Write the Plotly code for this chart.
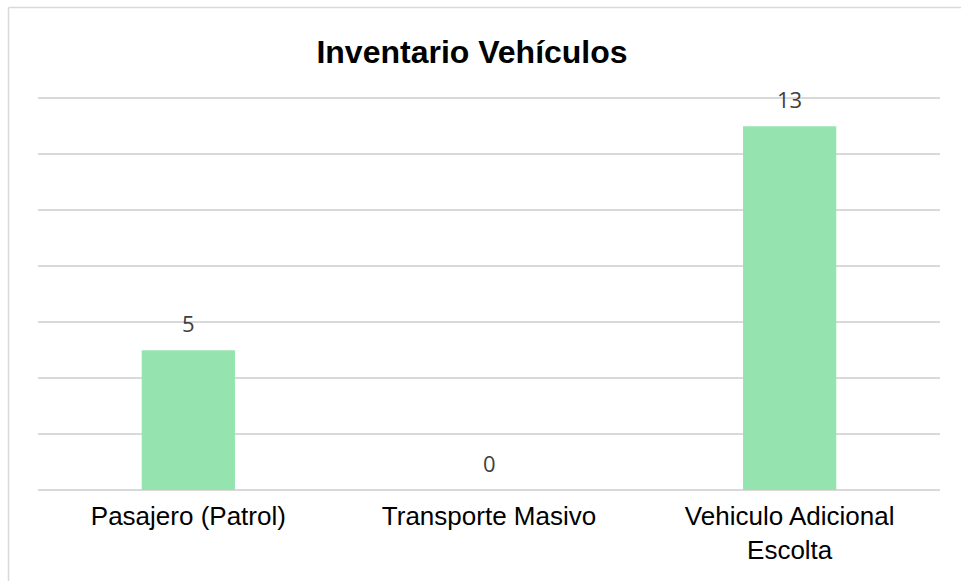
import plotly.graph_objects as go

# Inventory data
categorias = ["Pasajero (Patrol)", "Transporte Masivo", "Vehiculo Adicional<br>Escolta"]
cantidades = [5, 0, 13]
y_ticks = [0, 2, 4, 6, 8, 10, 12, 14]

W, H = 961, 581
L, R, T, B = 38, 21, 90, 91

fig = go.Figure()
fig.add_trace(go.Bar(
    x=categorias,
    y=cantidades,
    marker=dict(color="#95E3AF", line=dict(width=0)),
    width=0.31,
    hoverinfo="x+y",
))

# value labels above each bar
for c, v in zip(categorias, cantidades):
    fig.add_annotation(
        x=c, y=v, text=str(v), showarrow=False,
        yanchor="bottom", yshift=10,
        font=dict(family="Open Sans, Noto Sans, sans-serif", size=22, color="#404040"),
    )

pw = W - L - R
ph = H - T - B
frame = dict(color="#D9D9D9", width=1.5)
# outer chart frame: top and left edges
fig.add_shape(type="line", xref="paper", yref="paper",
              x0=(8.5 - L) / pw, x1=(W + 5 - L) / pw,
              y0=(H - 7.5 - B) / ph, y1=(H - 7.5 - B) / ph,
              line=frame, layer="below")
fig.add_shape(type="line", xref="paper", yref="paper",
              x0=(8.5 - L) / pw, x1=(8.5 - L) / pw,
              y0=-(B + 5) / ph, y1=(H - 7.5 - B) / ph,
              line=frame, layer="below")

fig.update_layout(
    width=W, height=H,
    margin=dict(l=L, r=R, t=T, b=B, pad=0),
    paper_bgcolor="white",
    plot_bgcolor="white",
    showlegend=False,
    title=dict(
        text="<b>Inventario Vehículos</b>",
        x=472 / W, xanchor="center", xref="container",
        y=1 - 52 / H, yanchor="middle", yref="container",
        font=dict(family="Liberation Sans, Arial, sans-serif", size=32, color="#000000"),
    ),
    xaxis=dict(
        showgrid=False, showline=False, zeroline=False, ticks="",
        ticklabelstandoff=8,
        tickfont=dict(family="Liberation Sans, Arial, sans-serif", size=26, color="#000000"),
        fixedrange=True,
    ),
    yaxis=dict(
        range=[0, 14.3], tickvals=y_ticks, showticklabels=False,
        showgrid=True, gridcolor="#D9D9D9", gridwidth=2,
        zeroline=True, zerolinecolor="#D9D9D9", zerolinewidth=2,
        showline=False, ticks="", fixedrange=True,
    ),
)

fig.write_html("out.html")
